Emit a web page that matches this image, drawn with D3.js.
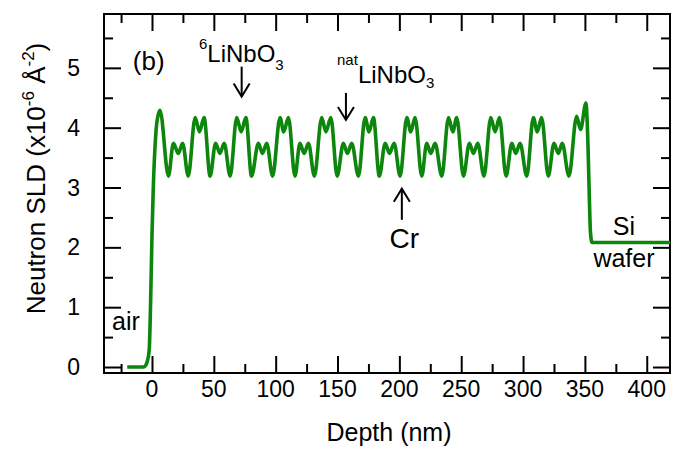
<!DOCTYPE html>
<html>
<head>
<meta charset="utf-8">
<script src="https://cdn.jsdelivr.net/npm/d3@7"></script>
<style>
  html, body { margin: 0; padding: 0; background: #fff; }
  svg { display: block; }
  text { font-family: "Liberation Sans", Arial, sans-serif; fill: #000; }
</style>
</head>
<body>
<svg id="chart" width="677" height="461"></svg>
<script>
// Neutron scattering length density profile of the LiNbO3 / Cr multilayer
const depth = [
  -20, -7, -5, -3.5, -2.2, -1.1, 0, 1, 2.5, 4, 6.5,
  13.3, 17.3, 21.3, 24.8, 29.3, 34.9, 38.4, 42.1, 47.0,
  51.4, 54.9, 58.4, 63.2, 68.5, 72.1, 75.9, 80.5,
  86.0, 89.3, 92.8, 97.5, 103.5, 106.5, 110.3, 115.6,
  119.6, 123.0, 126.5, 131.3, 137.2, 140.6, 144.6, 149.7,
  154.7, 158.0, 161.5, 166.9, 172.3, 175.5, 179.0, 183.8,
  188.5, 192.0, 195.8, 200.6, 206.0, 209.2, 212.7, 218.1,
  222.1, 225.4, 228.9, 234.3, 239.7, 243.2, 246.4, 251.8,
  256.6, 259.9, 263.4, 268.4, 273.9, 277.4, 280.9, 286.3,
  290.9, 294.1, 297.6, 303.0, 308.3, 311.5, 315.0, 320.4,
  325.0, 328.5, 331.7, 337.1, 343.3, 346.5, 350.8,
  352.5, 353.5, 354.5, 355.8, 419
];
const sld = [
  0, 0, 0.03, 0.12, 0.3, 1.1, 2.2, 2.96, 3.7, 4.1, 4.29,
  3.19, 3.74, 3.57, 3.74, 3.19, 4.17, 3.93, 4.17, 3.19,
  3.74, 3.57, 3.74, 3.19, 4.17, 3.93, 4.17, 3.19,
  3.74, 3.57, 3.74, 3.19, 4.17, 3.93, 4.17, 3.19,
  3.74, 3.57, 3.74, 3.19, 4.17, 3.93, 4.17, 3.19,
  3.74, 3.57, 3.74, 3.19, 4.17, 3.93, 4.17, 3.19,
  3.74, 3.57, 3.74, 3.19, 4.17, 3.93, 4.17, 3.19,
  3.74, 3.57, 3.74, 3.19, 4.17, 3.93, 4.17, 3.19,
  3.74, 3.57, 3.74, 3.19, 4.17, 3.93, 4.17, 3.19,
  3.74, 3.57, 3.74, 3.19, 4.17, 3.93, 4.17, 3.19,
  3.74, 3.57, 3.74, 3.19, 4.19, 3.97, 4.41,
  3.7, 2.9, 2.25, 2.08, 2.08
];

// axis ticks
const xMajorTicks = [0, 50, 100, 150, 200, 250, 300, 350, 400];
const xMinorTicks = [-25, 25, 75, 125, 175, 225, 275, 325, 375];
const yMajorTicks = [0, 1, 2, 3, 4, 5];
const yMinorTicks = [0.5, 1.5, 2.5, 3.5, 4.5, 5.5];

const svg = d3.select("#chart");
const frame = { left: 104, right: 670, top: 14, bottom: 373 };

const x = d3.scaleLinear().domain([-38.8, 418.8]).range([frame.left, frame.right]);
const y = d3.scaleLinear().domain([-0.1, 5.9]).range([frame.bottom, frame.top]);

const MAJOR = 17, MINOR = 9;
const FONT = "'Liberation Sans', Arial, sans-serif";

function styleAxis(g) {
  g.select(".domain").remove();
  g.selectAll(".tick line").attr("stroke", "#000").attr("stroke-width", 2);
  g.selectAll(".tick text").remove();
}

// inward tick marks on all four sides
const sides = [
  [d3.axisBottom(x), xMajorTicks, xMinorTicks, `translate(0,${frame.bottom})`],
  [d3.axisTop(x), xMajorTicks, xMinorTicks, `translate(0,${frame.top})`],
  [d3.axisLeft(y), yMajorTicks, yMinorTicks, `translate(${frame.left},0)`],
  [d3.axisRight(y), yMajorTicks, yMinorTicks, `translate(${frame.right},0)`]
];
sides.forEach(([ax, major, minor, tr]) => {
  svg.append("g").attr("transform", tr)
    .call(ax.tickValues(major).tickSize(-MAJOR).tickFormat("")).call(styleAxis);
  svg.append("g").attr("transform", tr)
    .call(ax.tickValues(minor).tickSize(-MINOR).tickFormat("")).call(styleAxis);
});

// tick labels
svg.append("g").selectAll("text").data(xMajorTicks).join("text")
  .attr("x", d => x(d)).attr("y", 397)
  .attr("text-anchor", "middle").attr("font-size", 23)
  .text(d => d);
svg.append("g").selectAll("text").data(yMajorTicks).join("text")
  .attr("x", frame.left - 24).attr("y", d => y(d) + 8)
  .attr("text-anchor", "end").attr("font-size", 23)
  .text(d => d);

// plot frame
svg.append("rect")
  .attr("x", frame.left).attr("y", frame.top)
  .attr("width", frame.right - frame.left).attr("height", frame.bottom - frame.top)
  .attr("fill", "none").attr("stroke", "#000").attr("stroke-width", 2);

// SLD profile
const points = depth.map((d, i) => [d, sld[i]]);
const line = d3.line().x(d => x(d[0])).y(d => y(d[1])).curve(d3.curveMonotoneX);
svg.append("path").datum(points)
  .attr("d", line)
  .attr("fill", "none")
  .attr("stroke", "#0c860c")
  .attr("stroke-width", 3.6)
  .attr("stroke-linejoin", "round");

// axis titles
svg.append("text")
  .attr("x", 389).attr("y", 441)
  .attr("text-anchor", "middle").attr("font-size", 25)
  .text("Depth (nm)");

const yTitle = svg.append("text")
  .attr("transform", `translate(45,${(frame.top + frame.bottom) / 2 - 15}) rotate(-90)`)
  .attr("text-anchor", "middle").attr("font-size", 26);
yTitle.append("tspan").text("Neutron SLD (x10");
yTitle.append("tspan").attr("font-size", 17).attr("dy", -11).text("-6");
yTitle.append("tspan").attr("dy", 11).text(" Å");
yTitle.append("tspan").attr("font-size", 17).attr("dy", -11).text("-2");
yTitle.append("tspan").attr("dy", 11).text(")");

// annotations
svg.append("text").attr("x", x(-15.5)).attr("y", y(4.96))
  .attr("font-size", 26).text("(b)");

const li6 = svg.append("text").attr("x", x(38)).attr("y", y(5.10)).attr("font-size", 24);
li6.append("tspan").attr("font-size", 15).attr("dy", -13).text("6");
li6.append("tspan").attr("dy", 13).text("LiNbO");
li6.append("tspan").attr("font-size", 15).attr("dy", 8).text("3");

const liNat = svg.append("text").attr("x", x(149.6)).attr("y", y(4.75)).attr("font-size", 24);
liNat.append("tspan").attr("font-size", 15).attr("dy", -18).text("nat");
liNat.append("tspan").attr("dy", 18).text("LiNbO");
liNat.append("tspan").attr("font-size", 15).attr("dy", 5).text("3");

svg.append("text").attr("x", x(204)).attr("y", y(1.99))
  .attr("text-anchor", "middle").attr("font-size", 28).text("Cr");
svg.append("text").attr("x", x(-32.3)).attr("y", y(0.62))
  .attr("font-size", 25).text("air");
svg.append("text").attr("x", x(381.6)).attr("y", y(2.21))
  .attr("text-anchor", "middle").attr("font-size", 25).text("Si");
svg.append("text").attr("x", x(381.6)).attr("y", y(1.67))
  .attr("text-anchor", "middle").attr("font-size", 25).text("wafer");

// arrows: [depth, tail value, head value]
const arrows = [
  [72.5, 5.02, 4.52],
  [156.8, 4.58, 4.13],
  [202.0, 2.46, 2.98]
];
arrows.forEach(([d, from, to]) => {
  const ax = x(d), y0 = y(from), y1 = y(to);
  const dir = y1 > y0 ? 1 : -1;
  const g = svg.append("g").attr("stroke", "#000").attr("stroke-width", 2).attr("fill", "none");
  g.append("line").attr("x1", ax).attr("x2", ax).attr("y1", y0).attr("y2", y1);
  g.append("path").attr("d", `M${ax - 8},${y1 - dir * 13} L${ax},${y1} L${ax + 8},${y1 - dir * 13}`);
});
</script>
</body>
</html>
